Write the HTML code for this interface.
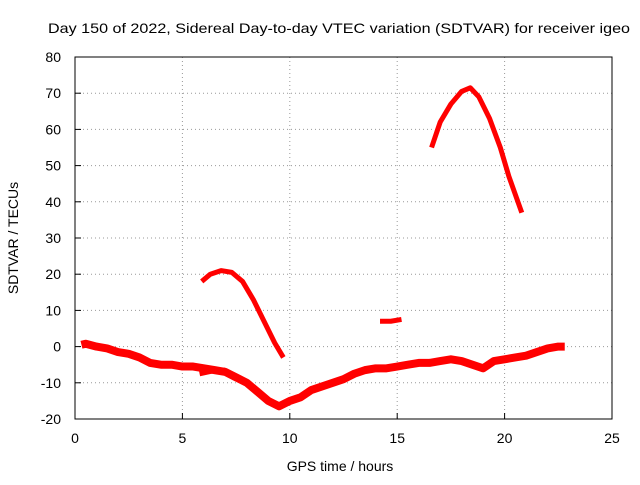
<!DOCTYPE html>
<html><head><meta charset="utf-8"><style>
body{margin:0;background:#fff;}
svg text{font-family:"Liberation Sans",sans-serif;font-size:14px;fill:#000;}
</style></head><body>
<svg id="chart" width="640" height="480">
<text x="48" y="33" textLength="582" lengthAdjust="spacingAndGlyphs">Day 150 of 2022, Sidereal Day-to-day VTEC variation (SDTVAR) for receiver igeo</text>
<text x="340" y="471" text-anchor="middle">GPS time / hours</text>
<text x="18" y="238" text-anchor="middle" transform="rotate(-90 18 238)">SDTVAR / TECUs</text>
<g id="grid"></g><g id="series"></g>
<rect x="75" y="57" width="537" height="362" fill="none" stroke="#000"/>
</svg>
<script>
const xTicks=[0,5,10,15,20,25];
const yTicks=[-20,-10,0,10,20,30,40,50,60,70,80];
const baseX=[0.3,0.5,1,1.5,2,2.5,3,3.5,4,4.5,5,5.5,6,6.5,7,7.5,8,8.5,9,9.5,10,10.5,11,11.5,12,12.5,13,13.5,14,14.5,15,15.5,16,16.5,17,17.5,18,18.5,19,19.5,20,20.5,21,21.5,22,22.5,22.8];
const baseY=[0.5,0.8,0,-0.5,-1.5,-2,-3,-4.5,-5,-5,-5.5,-5.5,-6,-6.5,-7,-8.5,-10,-12.5,-15,-16.5,-15,-14,-12,-11,-10,-9,-7.5,-6.5,-6,-6,-5.5,-5,-4.5,-4.5,-4,-3.5,-4,-5,-6,-4,-3.5,-3,-2.5,-1.5,-0.5,0,0];
const subX=[5.8,6.2,6.6,7];
const subY=[-7.5,-7,-6.5,-6.5];
const arc1X=[5.9,6.3,6.8,7.3,7.8,8.3,8.8,9.3,9.7];
const arc1Y=[18,20,21,20.5,18,13,7,1,-3];
const smallX=[14.2,14.7,15.2];
const smallY=[7,7,7.5];
const arc2X=[16.6,17,17.5,18,18.4,18.8,19.3,19.8,20.2,20.5,20.8];
const arc2Y=[55,62,67,70.5,71.5,69,63,55,47,42,37];
const NS="http://www.w3.org/2000/svg";
const X=v=>75+v*537/25, Y=v=>419-(v+20)*362/100;
const grid=document.getElementById('grid'), svg=document.getElementById('chart');
function mk(t,a,p){const e=document.createElementNS(NS,t);for(const k in a)e.setAttribute(k,a[k]);p.appendChild(e);return e;}
xTicks.forEach(t=>{
 if(t>0&&t<25){const l=mk('line',{x1:X(t),x2:X(t),y1:57,y2:419,stroke:'#999','stroke-dasharray':'1,3'},grid);
 
 }
 const s=mk('line',{x1:X(t),x2:X(t),y1:419,y2:413,stroke:'#000'},grid);
 
 
 const tx=mk('text',{x:X(t),y:443,'text-anchor':'middle'},svg);tx.textContent=t;
 
 
});
yTicks.forEach(t=>{
 if(t>-20&&t<80){const l=mk('line',{x1:75,x2:612,y1:Y(t),y2:Y(t),stroke:'#999','stroke-dasharray':'1,3'},grid);
 
 }
 const s=mk('line',{x1:75,x2:81,y1:Y(t),y2:Y(t),stroke:'#000'},grid);
 
 
 const tx=mk('text',{x:61,y:Y(t)+5,'text-anchor':'end'},svg);tx.textContent=t;
 
 
});
const ser=document.getElementById('series');
[[baseX,baseY,'sdtvar-baseline',8],[subX,subY,'sdtvar-sub-band',5],[arc1X,arc1Y,'sdtvar-arc-1',5],[smallX,smallY,'sdtvar-segment',5],[arc2X,arc2Y,'sdtvar-arc-2',5]].forEach(([xs,ys,n,w])=>{
 const p=mk('polyline',{points:xs.map((x,i)=>X(x)+','+Y(ys[i])).join(' '),fill:'none',stroke:'#f00','stroke-width':w,'stroke-linejoin':'round'},ser);
 
 
});
</script>
</body></html>
